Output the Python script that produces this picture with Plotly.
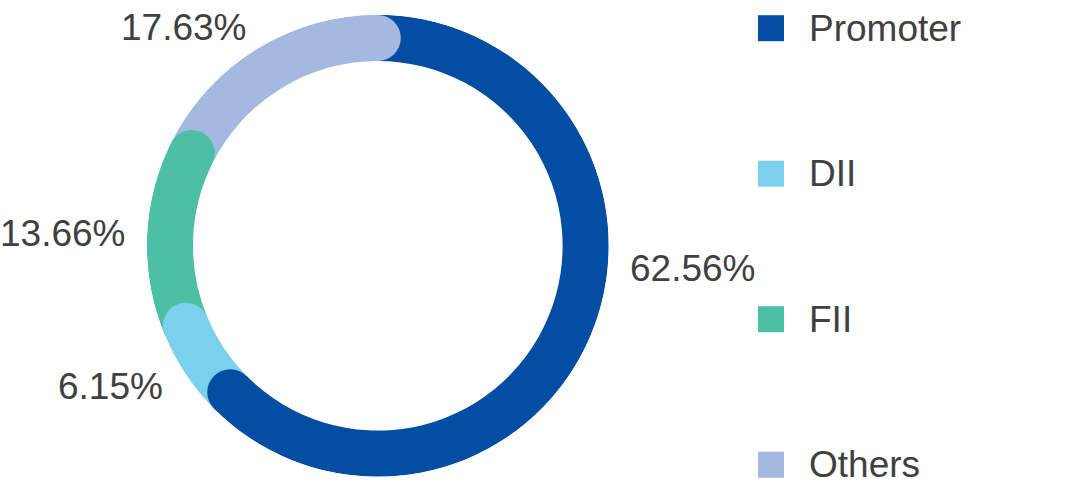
import plotly.graph_objects as go

# Shareholding pattern data.
categories = ["Promoter", "DII", "FII", "Others"]
shares = [62.56, 6.15, 13.66, 17.63]
colors = ["#034EA2", "#7BD0EC", "#4DBFA4", "#A3B9E0"]

# Label placement (pixels in the 1089x492 canvas).
label_x = [628, 165, 128, 249]
label_y = [268, 386, 233, 27]
label_anchor = ["left", "right", "right", "right"]

W, H = 1089, 492
TEXT_COLOR = "#404040"
FONT = "Liberation Sans"

# Angles: clockwise from the top, one full turn = 100%.
ends = []
running = 0.0
for v in shares:
    running += v
    ends.append(running * 3.6)
spans = [v * 3.6 for v in shares]
mids = [e - s / 2 for e, s in zip(ends, spans)]

fig = go.Figure()

# Ring segments.
fig.add_trace(
    go.Barpolar(
        r=[0.2] * len(shares),
        base=[0.8] * len(shares),
        theta=mids,
        width=spans,
        marker=dict(color=colors, line=dict(width=0)),
        hoverinfo="skip",
        showlegend=False,
    )
)

# Rounded caps at the clockwise end of each segment.
fig.add_trace(
    go.Scatterpolar(
        r=[0.9] * len(shares),
        theta=ends,
        mode="markers",
        marker=dict(color=colors, size=46, line=dict(width=0)),
        hoverinfo="skip",
        showlegend=False,
    )
)

# Legend drawn as a marker column.
legend_marker_x = 771
legend_text_x = 807
fig.add_trace(
    go.Scatter(
        x=[legend_marker_x] * len(categories),
        y=list(range(len(categories))),
        mode="markers",
        marker=dict(symbol="square", size=26, color=colors, line=dict(width=0)),
        hoverinfo="skip",
        showlegend=False,
    )
)

annotations = []
for i, name in enumerate(categories):
    annotations.append(
        dict(
            x=legend_text_x, y=i, xref="x", yref="y",
            text=name, showarrow=False,
            xanchor="left", yanchor="middle",
            font=dict(family=FONT, size=37, color=TEXT_COLOR),
        )
    )
for v, lx, ly, anc in zip(shares, label_x, label_y, label_anchor):
    annotations.append(
        dict(
            x=lx / W, y=1 - ly / H,
            xref="paper", yref="paper",
            text=f"{v:.2f}%", showarrow=False,
            xanchor=anc, yanchor="middle",
            font=dict(family=FONT, size=37, color=TEXT_COLOR),
        )
    )

cx, cy, R = 377.8, 245.8, 231
spacing = 145.5
top_px = 28.2

fig.update_layout(
    width=W,
    height=H,
    margin=dict(l=0, r=0, t=0, b=0),
    paper_bgcolor="white",
    plot_bgcolor="rgba(0,0,0,0)",
    template="none",
    polar=dict(
        domain=dict(x=[(cx - R) / W, (cx + R) / W], y=[1 - (cy + R) / H, 1 - (cy - R) / H]),
        bgcolor="rgba(0,0,0,0)",
        bargap=0,
        radialaxis=dict(range=[0, 1], visible=False),
        angularaxis=dict(direction="clockwise", rotation=90, visible=False),
    ),
    xaxis=dict(range=[0, W], domain=[0, 1], visible=False, fixedrange=True),
    yaxis=dict(
        range=[(len(categories) - 1) + (H - (top_px + spacing * 3)) / spacing, -top_px / spacing],
        domain=[0, 1], visible=False, fixedrange=True,
    ),
    annotations=annotations,
)

# Drop the page's default body margin so the figure fills the window.
fig.write_html(
    "out.html",
    config={"displayModeBar": False},
    post_script="document.body.style.margin = '0';",
)
